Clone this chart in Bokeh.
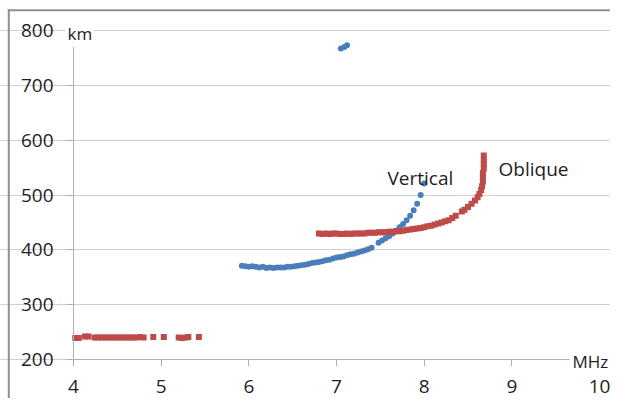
from bokeh.plotting import figure
from bokeh.models import Range1d, FixedTicker, Label, BoxAnnotation
from bokeh.embed import file_html
from bokeh.resources import INLINE

# ---- data ----
x_ticks = [4, 5, 6, 7, 8, 9, 10]
y_ticks = [200, 300, 400, 500, 600, 700, 800]

vertical_x = [5.92, 5.96, 6.00, 6.04, 6.08, 6.12, 6.16, 6.20, 6.24, 6.28, 6.32, 6.36,
              6.40, 6.44, 6.48, 6.52, 6.56, 6.60, 6.64, 6.68, 6.72, 6.76, 6.80, 6.84,
              6.88, 6.92, 6.96, 7.00, 7.04, 7.08, 7.12, 7.16, 7.20, 7.24, 7.28, 7.32,
              7.36, 7.40, 7.48, 7.52, 7.56, 7.60, 7.64, 7.68, 7.72, 7.76, 7.80, 7.84,
              7.88, 7.92, 7.96, 8.00, 7.05, 7.09, 7.12]
vertical_y = [371, 370, 369, 370, 369, 368, 369, 367, 368, 367, 368, 368,
              368, 369, 369, 370, 371, 372, 373, 374, 376, 377, 378, 379,
              381, 382, 384, 386, 387, 388, 390, 392, 393, 395, 397, 399,
              401, 404, 413, 417, 421, 425, 430, 435, 441, 447, 454, 462,
              472, 484, 500, 521, 767, 770, 773]

oblique_x = [4.02, 4.06, 4.13, 4.17, 4.24, 4.28, 4.32, 4.36, 4.40, 4.44, 4.48, 4.52,
             4.56, 4.60, 4.64, 4.68, 4.72, 4.76, 4.80, 4.91, 5.03, 5.20, 5.24, 5.28,
             5.31, 5.43,
             6.80, 6.84, 6.88, 6.92, 6.96, 7.00, 7.04, 7.08, 7.12, 7.16, 7.20, 7.24,
             7.28, 7.32, 7.36, 7.40, 7.44, 7.48, 7.52, 7.56, 7.60, 7.64, 7.68, 7.72,
             7.76, 7.80, 7.84, 7.88, 7.92, 7.96, 8.00, 8.04, 8.08, 8.12, 8.16, 8.20,
             8.24, 8.28, 8.32, 8.36, 8.43, 8.46, 8.50, 8.54, 8.58, 8.61, 8.63, 8.65,
             8.66, 8.67, 8.67, 8.67, 8.68, 8.68, 8.68, 8.68]
oblique_y = [239, 239, 242, 242, 240, 240, 240, 240, 240, 240, 240, 240,
             240, 240, 240, 240, 240, 241, 240, 241, 241, 240, 239, 240,
             241, 241,
             430, 429, 430, 429, 430, 430, 429, 429, 430, 429, 430, 430,
             430, 430, 431, 431, 431, 432, 432, 432, 433, 433, 434, 434,
             435, 436, 437, 438, 439, 440, 441, 443, 444, 446, 448, 450,
             452, 454, 458, 462, 470, 473, 478, 484, 490, 496, 502, 509,
             516, 524, 532, 540, 548, 556, 564, 572]

label_vertical = "Vertical"
label_oblique = "Oblique"
unit_x = "MHz"
unit_y = "km"

FONT = "Open Sans"
TXT = "#1e1e1e"
BORDER = "#8f8f8f"

# frame covers the whole canvas; axes are pinned at x=4 and y=200
W, H = 610, 398
px_x = 526 / 6.0     # pixels per MHz
px_y = 329 / 600.0   # pixels per km
x0 = 4 - 73 / px_x
x1 = 10 + (W - 599) / px_x
y1 = 800 + 30 / px_y
y0 = 200 - (H - 359) / px_y

p = figure(width=W, height=H, x_range=Range1d(x0, x1), y_range=Range1d(y0, y1),
           output_backend="svg", toolbar_location=None, min_border=0)
p.outline_line_color = None
p.background_fill_color = "white"
p.border_fill_color = "white"

p.xgrid.visible = False
p.ygrid.grid_line_color = "#d0d0d0"
p.ygrid.grid_line_width = 1
p.ygrid.bounds = (4, 10)
p.ygrid.ticker = FixedTicker(ticks=y_ticks)

p.xaxis.fixed_location = 200
p.yaxis.fixed_location = 4
p.xaxis.bounds = (4, 10)
p.yaxis.bounds = (200, 800)

for ax, ticks in ((p.xaxis, x_ticks), (p.yaxis, y_ticks)):
    ax.ticker = FixedTicker(ticks=ticks)
    ax.axis_line_color = "#b0b0b0"
    ax.major_tick_line_color = "#b0b0b0"
    ax.major_tick_in = 0
    ax.major_tick_out = 7
    ax.minor_tick_line_color = None
    ax.major_label_text_font = FONT
    ax.major_label_text_font_size = "19px"
    ax.major_label_text_color = TXT
p.yaxis.major_label_standoff = 13
p.xaxis.major_label_standoff = 13

# chart-area border (left and top edges, as in the reference)
p.add_layout(BoxAnnotation(left=7.3, right=9.3, top=8.7, bottom=H,
                           left_units="canvas", right_units="canvas",
                           top_units="canvas", bottom_units="canvas",
                           fill_color=BORDER, fill_alpha=1, line_color=None))
p.add_layout(BoxAnnotation(left=7.3, right=W, top=8.7, bottom=10.7,
                           left_units="canvas", right_units="canvas",
                           top_units="canvas", bottom_units="canvas",
                           fill_color=BORDER, fill_alpha=1, line_color=None))

p.scatter(vertical_x, vertical_y, marker="circle", size=6, color="#4a7ebb", line_width=0)
p.scatter(oblique_x, oblique_y, marker="square", size=6, color="#be4b48", line_width=0)

p.add_layout(Label(x=7.5817, y=531.9, text=label_vertical, text_font=FONT,
                   text_font_size="19px", text_color=TXT, text_baseline="alphabetic"))
p.add_layout(Label(x=8.848, y=548.3, text=label_oblique, text_font=FONT,
                   text_font_size="19px", text_color=TXT, text_baseline="alphabetic"))
p.add_layout(Label(x=9.658, y=196.4, text=unit_x, text_font=FONT,
                   text_font_size="17px", text_color=TXT, text_baseline="alphabetic",
                   background_fill_color="white", padding=3))
p.add_layout(Label(x=3.9087, y=794.5, text=unit_y, text_font=FONT,
                   text_font_size="17px", text_color=TXT, text_baseline="alphabetic",
                   background_fill_color="white", padding=2))

open("out.html", "w").write(file_html(p, INLINE))
